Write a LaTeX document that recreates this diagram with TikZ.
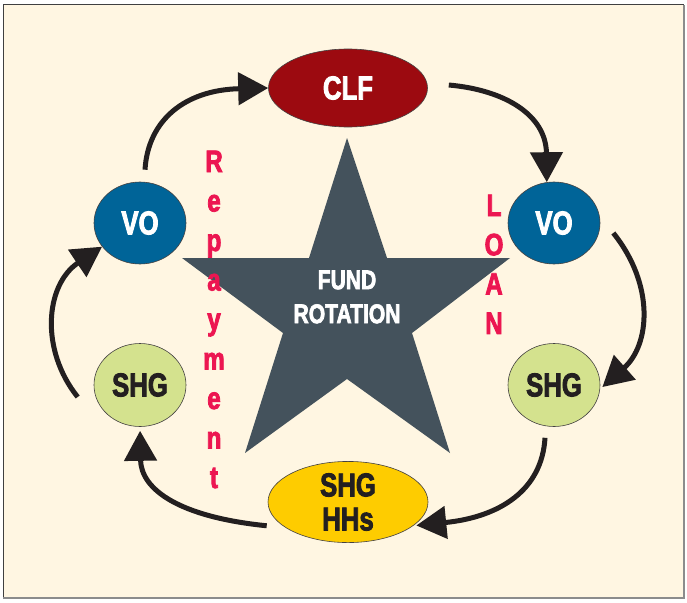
\documentclass[tikz,border=0pt]{standalone}
\usepackage{fontspec}
\newfontfamily\cf[FakeStretch=0.78,FakeBold=2.5]{Liberation Sans Bold}
\usetikzlibrary{arrows.meta,shapes.geometric}
\definecolor{bgcream}{RGB}{255,246,226}
\definecolor{clfred}{RGB}{156,10,16}
\definecolor{voblue}{RGB}{0,100,152}
\definecolor{shggreen}{RGB}{212,226,142}
\definecolor{hhyellow}{RGB}{254,204,0}
\definecolor{stargray}{RGB}{68,82,92}
\definecolor{pinkred}{RGB}{236,22,81}
\definecolor{inkblack}{RGB}{35,31,32}
\begin{document}
\begin{tikzpicture}[x=1pt,y=-1pt,
  oval/.style={ellipse,draw=inkblack!85,line width=0.6pt,inner sep=0pt,
    font=\cf\fontsize{33}{34}\selectfont},
  lett/.style={anchor=base,inner sep=0pt,text=pinkred,
    font=\cf\fontsize{31}{32}\selectfont},
  flow/.style={draw=inkblack,line width=5pt,
    -{Triangle[length=30pt,width=32pt]}}]
\useasboundingbox (0,0) rectangle (687,602);
% frame
\fill[bgcream] (3,5) rectangle (684,598);
\draw[line width=1pt,black!75] (3,598) -- (3,5) -- (684,5);
\draw[line width=2pt,black!45] (3,598) -- (684,598) -- (684,5);
% star
\fill[stargray] (347,138) -- (387,258) -- (510,258) -- (412,333) -- (450,453)
  -- (347,379) -- (245,453) -- (283,333) -- (182,258) -- (309,258) -- cycle;
\node[text=white,align=center,font=\cf\fontsize{27}{34}\selectfont]
  (fund) at (347,297) {FUND\\ROTATION};
% nodes
\node[oval,fill=clfred,text=white,minimum width=159pt,minimum height=78pt] (clf) at (348,88) {CLF};
\node[oval,fill=voblue,text=white,minimum width=92pt,minimum height=82pt] (vo1) at (140,223) {VO};
\node[oval,fill=voblue,text=white,minimum width=92pt,minimum height=82pt] (vo2) at (554,223) {VO};
\node[oval,fill=shggreen,text=inkblack,minimum width=92pt,minimum height=83pt] (shg1) at (140,385) {SHG};
\node[oval,fill=shggreen,text=inkblack,minimum width=92pt,minimum height=83pt] (shg2) at (554,385) {SHG};
\node[oval,fill=hhyellow,text=inkblack,minimum width=160pt,minimum height=79pt,align=center] (hh) at (348,502) {SHG\\HHs};
% vertical words
\foreach \l [count=\i from 0] in {R,e,p,a,y,m,e,n,t}
  \node[lett] (rep\i) at (214,172+39.5*\i) {\l};
\foreach \l [count=\i from 0] in {L,O,A,N}
  \node[lett] (loan\i) at (494,216+39.3*\i) {\l};
% arrows
\draw[flow] ([xshift=5pt,yshift=12pt]vo1.north) .. controls (148,120) and (185,90) .. (clf.west);
\draw[flow] ([xshift=21pt,yshift=3pt]clf.east) .. controls (505,90) and (546,115) .. (vo2.100);
\draw[flow,shorten >=3pt] ([xshift=13pt,yshift=-10pt]vo2.east) .. controls (655,285) and (650,345) .. (shg2.-5);
\draw[flow,shorten >=3pt] ([xshift=-9pt,yshift=-11pt]shg2.south) .. controls (542,490) and (500,517) .. (hh.-20);
\draw[flow,shorten >=4pt] ([xshift=-16pt]hh.200) .. controls (180,517) and (141,490) .. (shg1.south);
\draw[flow] ([xshift=-16pt,yshift=-12pt]shg1.west) .. controls (40,350) and (45,285) .. (vo1.212);
\end{tikzpicture}
\end{document}
